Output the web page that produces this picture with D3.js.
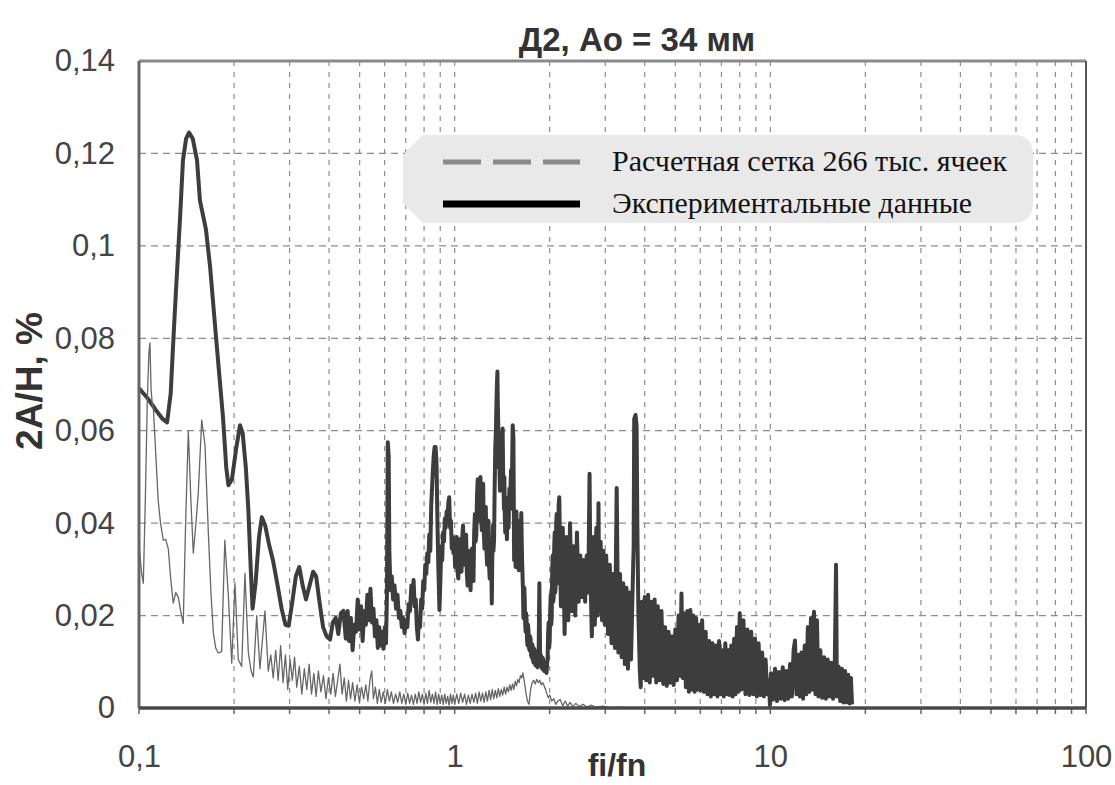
<!DOCTYPE html>
<html>
<head>
<meta charset="utf-8">
<script src="https://cdn.jsdelivr.net/npm/d3@7"></script>
<style>
  body { margin: 0; background: #fff; }
  svg { display: block; }
</style>
</head>
<body>
<script>
//---->CHART TEXT<-----//
const titleText = 'Д2, Ao = 34 мм';
const xLabel = 'fi/fn';
const yLabel = '2A/H, %';
const legendLabels = ['Расчетная сетка 266 тыс. ячеек', 'Экспериментальные данные'];

const xTicks = [0.1, 1, 10, 100];
const yTicks = [0, 0.02, 0.04, 0.06, 0.08, 0.1, 0.12, 0.14];

//---->DATA [fi/fn, 2A/H]<-----//
const expData = [
  [0.100,0.0692],[0.106,0.0672],[0.113,0.0645],[0.119,0.0625],[0.1227,0.0618],[0.126,0.068],[0.128,0.0775],
  [0.131,0.0905],[0.1349,0.106],[0.1378,0.1185],[0.141,0.1232],[0.144,0.1245],[0.148,0.1232],[0.1527,0.1185],
  [0.156,0.1098],[0.163,0.1035],[0.168,0.0954],[0.175,0.081],[0.178,0.0752],[0.1845,0.063],[0.189,0.052],
  [0.192,0.0482],[0.197,0.0495],[0.203,0.056],[0.209,0.0612],[0.213,0.0595],[0.218,0.052],[0.222,0.043],
  [0.226,0.030],[0.229,0.0215],[0.234,0.027],[0.240,0.037],[0.245,0.0413],[0.251,0.0395],[0.258,0.0355],
  [0.266,0.0318],[0.274,0.027],[0.283,0.0215],[0.291,0.018],[0.298,0.0178],[0.306,0.023],[0.314,0.0285],
  [0.322,0.0305],[0.330,0.0265],[0.338,0.0235],[0.347,0.0265],[0.356,0.0295],[0.364,0.0285],[0.373,0.023],
  [0.383,0.0175],[0.393,0.0155],[0.403,0.0148],[0.411,0.0185],[0.42,0.0195],[0.428,0.016],[0.436,0.0205],
  [0.444,0.021],
  [0.452,0.015],[0.458,0.021],[0.463,0.0145],[0.469,0.0195],[0.475,0.0125],[0.481,0.018],[0.487,0.0165],
  [0.493,0.0235],[0.499,0.017],[0.505,0.022],[0.511,0.0145],[0.517,0.021],[0.523,0.018],[0.529,0.0245],
  [0.535,0.019],[0.541,0.0258],[0.547,0.0185],[0.553,0.0215],[0.559,0.0155],[0.565,0.019],[0.571,0.013],
  [0.577,0.0175],[0.583,0.0135],[0.589,0.0165],[0.595,0.0128],[0.601,0.0175],[0.606,0.014],[0.610,0.024],
  [0.614,0.0575],[0.618,0.0545],[0.621,0.034],[0.626,0.0255],[0.632,0.0285],[0.638,0.0235],[0.645,0.0265],
  [0.652,0.0215],[0.659,0.0245],[0.666,0.0195],[0.673,0.021],[0.68,0.0175],[0.687,0.0195],[0.694,0.0162],
  [0.701,0.019],[0.708,0.0175],[0.715,0.0225],[0.722,0.021],[0.729,0.0265],[0.736,0.0245],[0.741,0.0277],
  [0.747,0.022],[0.753,0.0235],[0.759,0.0175],[0.765,0.0148],[0.771,0.0195],[0.777,0.0175],[0.783,0.0235],
  [0.789,0.0215],[0.795,0.0275],[0.801,0.0255],[0.807,0.031],[0.813,0.029],[0.819,0.0335],[0.825,0.0315],
  [0.831,0.0375],[0.837,0.034],[0.843,0.044],[0.851,0.05],[0.858,0.0545],[0.864,0.0565],[0.870,0.0565],
  [0.876,0.053],[0.882,0.04],[0.888,0.03],[0.895,0.0212],[0.901,0.0275],[0.907,0.035],[0.913,0.032],
  [0.919,0.038],[0.925,0.036],[0.931,0.041],[0.937,0.039],[0.943,0.0425],[0.949,0.041],[0.955,0.0445],
  [0.961,0.0456],[0.967,0.039],[0.973,0.0405],[0.979,0.0345],[0.985,0.037],[0.991,0.0335],[0.997,0.0365],
  [1.003,0.0305],[1.009,0.0345],[1.015,0.037],[1.021,0.0295],[1.027,0.028],[1.033,0.0345],[1.039,0.0365],
  [1.045,0.031],[1.051,0.0295],[1.057,0.037],[1.063,0.0395],[1.069,0.0335],[1.075,0.031],[1.081,0.036],
  [1.087,0.0375],[1.093,0.029],[1.099,0.0265],[1.105,0.032],[1.111,0.034],[1.117,0.028],[1.123,0.0255],
  [1.129,0.031],[1.135,0.0345],[1.141,0.029],[1.147,0.0275],[1.153,0.038],[1.159,0.042],[1.165,0.036],
  [1.171,0.0375],[1.177,0.046],[1.183,0.0495],[1.189,0.042],[1.195,0.0405],[1.201,0.047],[1.207,0.05],
  [1.213,0.041],[1.219,0.0385],[1.225,0.046],[1.231,0.0485],[1.237,0.038],[1.243,0.0345],[1.249,0.041],
  [1.255,0.0435],[1.261,0.034],[1.267,0.031],[1.273,0.038],[1.279,0.0405],[1.285,0.031],[1.291,0.028],
  [1.297,0.034],[1.303,0.0365],[1.311,0.0226],[1.316,0.033],[1.322,0.0395],[1.327,0.034],[1.333,0.0365],
  [1.339,0.048],[1.345,0.0565],[1.351,0.06],[1.356,0.0655],[1.361,0.07],[1.366,0.0728],[1.37,0.066],
  [1.374,0.0615],[1.379,0.052],[1.383,0.0595],[1.388,0.05],[1.392,0.047],[1.397,0.055],[1.401,0.0585],
  [1.406,0.049],[1.41,0.0475],[1.415,0.057],[1.419,0.0605],[1.424,0.051],[1.428,0.048],[1.433,0.043],
  [1.437,0.05],[1.442,0.041],[1.446,0.038],[1.451,0.043],[1.455,0.0455],[1.46,0.039],[1.464,0.0365],
  [1.469,0.042],[1.473,0.0445],[1.478,0.041],[1.482,0.039],[1.487,0.045],[1.491,0.0475],[1.496,0.043],
  [1.5,0.0445],[1.505,0.049],[1.509,0.0515],[1.514,0.046],[1.518,0.0475],[1.523,0.056],[1.527,0.0612],
  [1.535,0.0585],[1.543,0.032],[1.547,0.038],[1.551,0.0415],[1.556,0.035],[1.56,0.0305],[1.565,0.039],
  [1.569,0.0425],[1.574,0.037],[1.578,0.0335],[1.583,0.037],[1.587,0.0395],[1.592,0.033],[1.596,0.0298],
  [1.601,0.037],[1.606,0.0405],[1.611,0.036],[1.616,0.0345],[1.621,0.039],[1.626,0.0422],[1.631,0.036],
  [1.636,0.0315],[1.646,0.0255],[1.651,0.0195],[1.656,0.021],[1.662,0.026],[1.667,0.0235],[1.673,0.018],
  [1.678,0.0165],[1.684,0.0205],[1.69,0.019],[1.696,0.0145],[1.702,0.0135],[1.708,0.018],[1.714,0.0165],
  [1.72,0.013],[1.727,0.0125],[1.733,0.0155],[1.74,0.015],[1.746,0.0115],[1.753,0.011],[1.759,0.0138],
  [1.766,0.0135],[1.772,0.0102],[1.779,0.0098],[1.785,0.0128],[1.792,0.0125],[1.798,0.0095],[1.805,0.0092],
  [1.811,0.012],[1.818,0.0118],[1.824,0.009],[1.831,0.0088],[1.838,0.0112],[1.845,0.0115],[1.855,0.027],
  [1.866,0.0095],[1.873,0.0115],[1.88,0.0112],[1.887,0.0088],[1.894,0.0085],[1.901,0.0108],[1.908,0.0105],
  [1.915,0.0082],[1.922,0.008],[1.929,0.0098],[1.936,0.0095],[1.945,0.0078],[1.955,0.0076],[1.962,0.0095],
  [1.97,0.0105],[1.977,0.016],[1.985,0.0185],[1.992,0.013],[2.0,0.0145],[2.007,0.021],[2.015,0.0245],
  [2.022,0.018],[2.03,0.0195],[2.037,0.03],[2.045,0.033],[2.052,0.023],[2.06,0.024],[2.067,0.035],
  [2.075,0.038],[2.082,0.025],[2.09,0.0265],[2.097,0.04],[2.105,0.042],[2.112,0.027],[2.12,0.0285],
  [2.135,0.044],[2.145,0.0456],
  [2.17,0.022],[2.2,0.039],[2.23,0.016],[2.26,0.037],[2.29,0.019],[2.32,0.04],[2.35,0.021],[2.38,0.035],
  [2.41,0.02],[2.44,0.038],[2.47,0.023],[2.5,0.033],[2.53,0.024],[2.56,0.032],[2.59,0.023],[2.62,0.033],
  [2.65,0.025],[2.675,0.0507],[2.69,0.03],[2.72,0.0155],[2.75,0.037],[2.78,0.018],[2.81,0.039],[2.84,0.02],
  [2.855,0.0443],[2.87,0.021],[2.9,0.036],[2.93,0.019],[2.96,0.034],[2.99,0.018],[3.02,0.033],[3.06,0.016],
  [3.1,0.031],[3.14,0.014],[3.18,0.029],[3.22,0.013],[3.26,0.0476],[3.3,0.012],[3.34,0.029],[3.38,0.011],
  [3.42,0.027],[3.46,0.0095],[3.5,0.026],[3.54,0.0085],[3.58,0.025],[3.62,0.0105],[3.66,0.025],[3.69,0.035],
  [3.705,0.0625],[3.74,0.0634],[3.77,0.061],[3.79,0.04],[3.82,0.02],[3.86,0.008],[3.885,0.0045],[3.92,0.023],
  [3.96,0.0065],[4.0,0.024],
  [4.05,0.006],[4.1,0.0245],[4.15,0.0055],[4.2,0.023],[4.25,0.007],[4.3,0.0235],[4.35,0.0055],[4.4,0.022],
  [4.46,0.006],[4.52,0.021],[4.58,0.0052],[4.64,0.0175],[4.7,0.0048],[4.76,0.0165],[4.82,0.0055],[4.88,0.0155],
  [4.94,0.005],[5.0,0.017],[5.06,0.006],[5.12,0.02],[5.18,0.007],[5.23,0.0248],[5.28,0.0065],[5.34,0.0205],
  [5.4,0.0045],[5.46,0.021],[5.52,0.0035],[5.58,0.0212],[5.64,0.004],[5.7,0.02],[5.76,0.0035],[5.82,0.0195],
  [5.88,0.004],[5.94,0.018],[6.0,0.0038],
  [6.08,0.019],[6.16,0.0035],[6.24,0.0165],[6.32,0.003],[6.4,0.0145],[6.48,0.0025],[6.56,0.014],[6.64,0.003],
  [6.72,0.0135],[6.8,0.0025],[6.88,0.0145],[6.96,0.003],[7.04,0.0125],[7.12,0.0025],[7.2,0.014],[7.28,0.003],
  [7.36,0.0125],[7.44,0.0028],[7.52,0.0135],[7.6,0.0025],[7.68,0.015],[7.76,0.003],[7.84,0.0175],[7.92,0.0035],
  [8.0,0.0205],
  [8.1,0.004],[8.22,0.019],[8.34,0.003],[8.46,0.017],[8.58,0.0028],[8.7,0.0165],[8.82,0.003],[8.94,0.015],
  [9.06,0.0025],[9.18,0.014],[9.3,0.0028],[9.42,0.012],[9.54,0.0025],[9.66,0.0105],[9.78,0.003],[9.9,0.006],
  [9.97,0.0005],[10.05,0.0075],[10.2,0.0018],[10.35,0.0085],[10.5,0.0015],[10.65,0.0078],[10.8,0.002],
  [10.95,0.0088],[11.1,0.0017],[11.25,0.008],[11.4,0.002],[11.55,0.0095],[11.7,0.0025],[11.85,0.0125],
  [11.97,0.0146],[12.1,0.003],
  [12.25,0.0115],[12.4,0.0025],[12.55,0.012],[12.7,0.002],[12.85,0.0135],[13.0,0.003],[13.15,0.0175],
  [13.3,0.0035],[13.45,0.0195],[13.6,0.004],[13.75,0.0208],[13.9,0.003],[14.05,0.019],[14.2,0.0025],
  [14.4,0.0125],[14.6,0.0022],[14.8,0.011],[15.0,0.002],[15.2,0.0105],[15.4,0.0025],[15.6,0.0098],[15.8,0.002],
  [16.0,0.0095],[16.15,0.031],[16.25,0.0025],[16.45,0.009],[16.65,0.0015],[16.85,0.0085],[17.05,0.0012],
  [17.25,0.008],[17.45,0.0012],[17.65,0.0072],[17.85,0.001],[18.0,0.0065],[18.15,0.0008]
];

const calcData = [
  [0.1,0.045],[0.1004,0.034],[0.1018,0.0295],[0.1032,0.027],[0.1048,0.046],[0.1062,0.066],[0.1075,0.077],
  [0.1083,0.079],[0.1092,0.069],[0.1102,0.0655],[0.111,0.065],[0.113,0.055],[0.115,0.045],[0.117,0.040],
  [0.1194,0.0363],[0.1215,0.0365],[0.1238,0.0345],[0.126,0.028],[0.1284,0.0227],[0.1308,0.025],[0.1332,0.024],
  [0.1355,0.021],[0.1381,0.0183],[0.1405,0.04],[0.1433,0.060],[0.146,0.045],[0.1486,0.0335],[0.1515,0.04],
  [0.1541,0.0465],[0.158,0.0623],[0.1618,0.057],[0.1658,0.038],[0.169,0.025],[0.172,0.0162],[0.175,0.013],
  [0.1783,0.0119],[0.1827,0.0122],[0.187,0.0363],[0.192,0.024],[0.1967,0.0097],[0.2014,0.027],[0.2063,0.0105],
  [0.2115,0.009],[0.2166,0.0291],[0.222,0.012],[0.2265,0.008],[0.2302,0.0067],[0.236,0.02],[0.2416,0.0085],
  [0.2506,0.021],[0.2567,0.008],[0.2615,0.0115],[0.2662,0.0065],
  [0.271,0.0125],[0.276,0.006],[0.281,0.0135],[0.286,0.0055],[0.291,0.0115],[0.296,0.004],[0.301,0.0105],
  [0.306,0.006],[0.311,0.011],[0.316,0.0045],[0.322,0.009],[0.328,0.003],[0.334,0.0085],[0.34,0.004],
  [0.346,0.0095],[0.352,0.003],[0.358,0.0075],[0.364,0.0025],[0.37,0.008],[0.377,0.0035],[0.384,0.007],
  [0.391,0.002],[0.398,0.0065],[0.405,0.003],[0.412,0.0075],[0.419,0.0025],[0.426,0.006],[0.433,0.0095],
  [0.44,0.003],[0.447,0.0065],[0.454,0.0015],[0.461,0.006],[0.468,0.002],[0.475,0.0055],[0.483,0.0015],
  [0.491,0.005],[0.499,0.0012],[0.507,0.0045],[0.515,0.002],[0.523,0.005],[0.531,0.0015],[0.539,0.006],
  [0.546,0.008],[0.553,0.002],[0.561,0.0045],[0.569,0.001],[0.577,0.004],[0.585,0.0012],[0.594,0.0035],
  [0.603,0.001],[0.612,0.004],[0.621,0.0015],[0.63,0.0035],[0.64,0.001],[0.65,0.003],[0.66,0.0012],
  [0.67,0.0035],[0.68,0.001],[0.69,0.003],[0.70,0.0008],[0.71,0.0032],[0.72,0.001],[0.73,0.0028],
  [0.74,0.0008],[0.75,0.003],[0.76,0.001],[0.77,0.0035],[0.78,0.0012],[0.79,0.003],[0.80,0.0008],
  [0.81,0.0032],[0.82,0.001],[0.83,0.0038],[0.84,0.0012],[0.85,0.003],[0.86,0.001],[0.87,0.0035],
  [0.88,0.0008],[0.89,0.003],[0.9,0.001],[0.91,0.0028],[0.92,0.0008],[0.93,0.003],[0.94,0.001],
  [0.95,0.0025],[0.96,0.0006],[0.97,0.003],[0.98,0.001],[0.99,0.0028],[1.0,0.0008],
  [1.015,0.003],[1.03,0.001],[1.045,0.0032],[1.06,0.0012],[1.075,0.003],[1.09,0.0008],[1.105,0.0028],
  [1.12,0.001],[1.135,0.003],[1.15,0.0012],[1.165,0.0032],[1.18,0.001],[1.195,0.0035],[1.21,0.0015],
  [1.225,0.0032],[1.24,0.0012],[1.255,0.0035],[1.27,0.0015],[1.285,0.0038],[1.3,0.0018],[1.315,0.004],
  [1.33,0.002],[1.345,0.0038],[1.36,0.0022],[1.375,0.0042],[1.39,0.0025],[1.405,0.004],[1.42,0.0028],
  [1.435,0.0045],[1.45,0.003],[1.465,0.0045],[1.48,0.0035],[1.495,0.005],[1.51,0.0038],[1.525,0.0052],
  [1.54,0.004],[1.555,0.0058],[1.57,0.0048],[1.585,0.0062],[1.6,0.0055],[1.615,0.007],[1.63,0.0065],
  [1.645,0.0076],[1.66,0.006],[1.68,0.0035],[1.7,0.0015],[1.72,0.0008],[1.74,0.004],[1.76,0.0055],
  [1.78,0.006],[1.8,0.0052],[1.82,0.0062],[1.84,0.0055],[1.86,0.006],[1.88,0.005],[1.9,0.0055],
  [1.92,0.0048],[1.94,0.004],[1.96,0.003],[1.98,0.0022],[2.0,0.0028],[2.03,0.0015],[2.06,0.002],
  [2.09,0.0008],[2.12,0.0015],[2.16,0.0018],[2.2,0.0005],[2.24,0.0015],[2.28,0.0004],[2.32,0.0012],
  [2.37,0.0003],[2.42,0.001],[2.48,0.0003],[2.55,0.0008],[2.62,0.0002],[2.7,0.0006],[2.8,0.0002],
  [2.95,0.0004],[3.1,0.0001],[3.3,0.0002],[3.6,0.0]
];

//---->GLOBALS<-----//
const outerW = 1115,
      outerH = 785;

let svg,
    g;

let margin,
    w,
    h,
    x,
    y;

const commaFormat = d3.formatLocale({decimal: ',', thousands: ' ', grouping: [3], currency: ['', '']}).format('~g');

function build() {
    d3.select('body').selectAll('svg').remove();

    svg = d3.select('body').append('svg')
        .attr('width', outerW)
        .attr('height', outerH);

    g = svg.append('g')
        .attr('transform', `translate(${margin.left},${margin.top})`);

    // grid
    const gridX = x.ticks().filter(d => d > 0.1 && d < 100);
    g.append('g')
        .attr('class', 'grid-x')
        .selectAll('line')
        .data(gridX)
        .enter()
        .append('line')
        .attr('x1', d => x(d)).attr('x2', d => x(d))
        .attr('y1', 0).attr('y2', h)
        .attr('stroke', '#8c8c8c')
        .attr('stroke-width', 1.2)
        .attr('stroke-dasharray', '5,6');

    g.append('g')
        .attr('class', 'grid-y')
        .selectAll('line')
        .data(yTicks.filter(d => d > 0 && d < 0.14))
        .enter()
        .append('line')
        .attr('x1', 0).attr('x2', w)
        .attr('y1', d => y(d)).attr('y2', d => y(d))
        .attr('stroke', '#8c8c8c')
        .attr('stroke-width', 1.2)
        .attr('stroke-dasharray', '7,5');

    // minor ticks under the bottom axis
    g.append('g')
        .selectAll('line')
        .data(x.ticks())
        .enter()
        .append('line')
        .attr('x1', d => x(d)).attr('x2', d => x(d))
        .attr('y1', h).attr('y2', h + 6)
        .attr('stroke', '#666')
        .attr('stroke-width', 1.5);

    const line = d3.line()
        .x(d => x(d[0]))
        .y(d => y(d[1]));

    g.append('path')
        .datum(expData)
        .attr('d', line)
        .attr('fill', 'none')
        .attr('stroke', '#3d3d3d')
        .attr('stroke-width', 4)
        .attr('stroke-linejoin', 'round');

    g.append('path')
        .datum(calcData)
        .attr('d', line)
        .attr('fill', 'none')
        .attr('stroke', '#666')
        .attr('stroke-width', 1.3)
        .attr('stroke-linejoin', 'round');

    // frame
    const frame = [
        {x1: 0, y1: 0, x2: w, y2: 0, c: '#8a8a8a', sw: 3},
        {x1: w, y1: 0, x2: w, y2: h, c: '#555', sw: 2},
        {x1: 0, y1: 0, x2: 0, y2: h, c: '#666', sw: 3},
        {x1: 0, y1: h, x2: w, y2: h, c: '#4a4a4a', sw: 3.5}
    ];
    g.append('g')
        .selectAll('line')
        .data(frame)
        .enter()
        .append('line')
        .attr('x1', d => d.x1).attr('y1', d => d.y1)
        .attr('x2', d => d.x2).attr('y2', d => d.y2)
        .attr('stroke', d => d.c)
        .attr('stroke-width', d => d.sw);

    // axes
    const xAxis = g.append('g')
        .attr('transform', `translate(0,${h})`)
        .call(d3.axisBottom(x).tickValues(xTicks).tickFormat(commaFormat).tickSize(0).tickPadding(37));

    const yAxis = g.append('g')
        .call(d3.axisLeft(y).tickValues(yTicks).tickFormat(commaFormat).tickSize(0).tickPadding(24));

    [xAxis, yAxis].forEach(a => {
        a.select('.domain').remove();
        a.selectAll('text')
            .attr('font-family', 'Liberation Sans, Arial, sans-serif')
            .attr('font-size', 31)
            .attr('fill', '#444');
    });

    // titles
    svg.append('text')
        .attr('x', 637)
        .attr('y', 51)
        .attr('text-anchor', 'middle')
        .attr('font-family', 'Liberation Sans, Arial, sans-serif')
        .attr('font-weight', 'bold')
        .attr('font-size', 33)
        .attr('fill', '#333')
        .text(titleText);

    svg.append('text')
        .attr('x', 617)
        .attr('y', 776)
        .attr('text-anchor', 'middle')
        .attr('font-family', 'Liberation Sans, Arial, sans-serif')
        .attr('font-weight', 'bold')
        .attr('font-size', 32)
        .attr('fill', '#333')
        .text(xLabel);

    svg.append('text')
        .attr('transform', 'translate(42,381) rotate(-90)')
        .attr('text-anchor', 'middle')
        .attr('font-family', 'Liberation Sans, Arial, sans-serif')
        .attr('font-weight', 'bold')
        .attr('font-size', 37)
        .attr('fill', '#333')
        .text(yLabel);

    // legend
    const lg = svg.append('g').attr('class', 'legend');
    const lx = 403, ly = 135, lw = 630, lh = 88, r = 20, cut = 20;
    lg.append('path')
        .attr('d', `M${lx + cut},${ly} L${lx + lw - r},${ly} Q${lx + lw},${ly} ${lx + lw},${ly + r}
            L${lx + lw},${ly + lh - r} Q${lx + lw},${ly + lh} ${lx + lw - r},${ly + lh}
            L${lx + cut},${ly + lh} L${lx},${ly + lh - cut} L${lx},${ly + cut} Z`)
        .attr('fill', '#e9e9e9');

    const items = [
        {label: legendLabels[0], stroke: '#8a8a8a', sw: 5, dash: '38,12', len: 395, yy: ly + 27},
        {label: legendLabels[1], stroke: '#000', sw: 7, dash: null, len: 360, yy: ly + 69}
    ];
    items.forEach(it => {
        lg.append('line')
            .attr('x1', lx + 40).attr('x2', lx + 177)
            .attr('y1', it.yy).attr('y2', it.yy)
            .attr('stroke', it.stroke)
            .attr('stroke-width', it.sw)
            .attr('stroke-dasharray', it.dash);
        lg.append('text')
            .attr('x', lx + 209)
            .attr('y', it.yy + 9)
            .attr('font-family', 'Liberation Serif, Times New Roman, serif')
            .attr('font-size', 30)
            .attr('fill', '#111')
            .attr('textLength', it.len)
            .attr('lengthAdjust', 'spacingAndGlyphs')
            .text(it.label);
    });
}

function setup() {
    margin = {
        left: 139,
        right: 29,
        top: 61,
        bottom: 77
    };

    w = outerW - margin.left - margin.right;
    h = outerH - margin.top - margin.bottom;

    x = d3.scaleLog().domain([0.1, 100]).range([0, w]);
    y = d3.scaleLinear().domain([0, 0.14]).range([h, 0]);

    build();
}

setup();
</script>
</body>
</html>
